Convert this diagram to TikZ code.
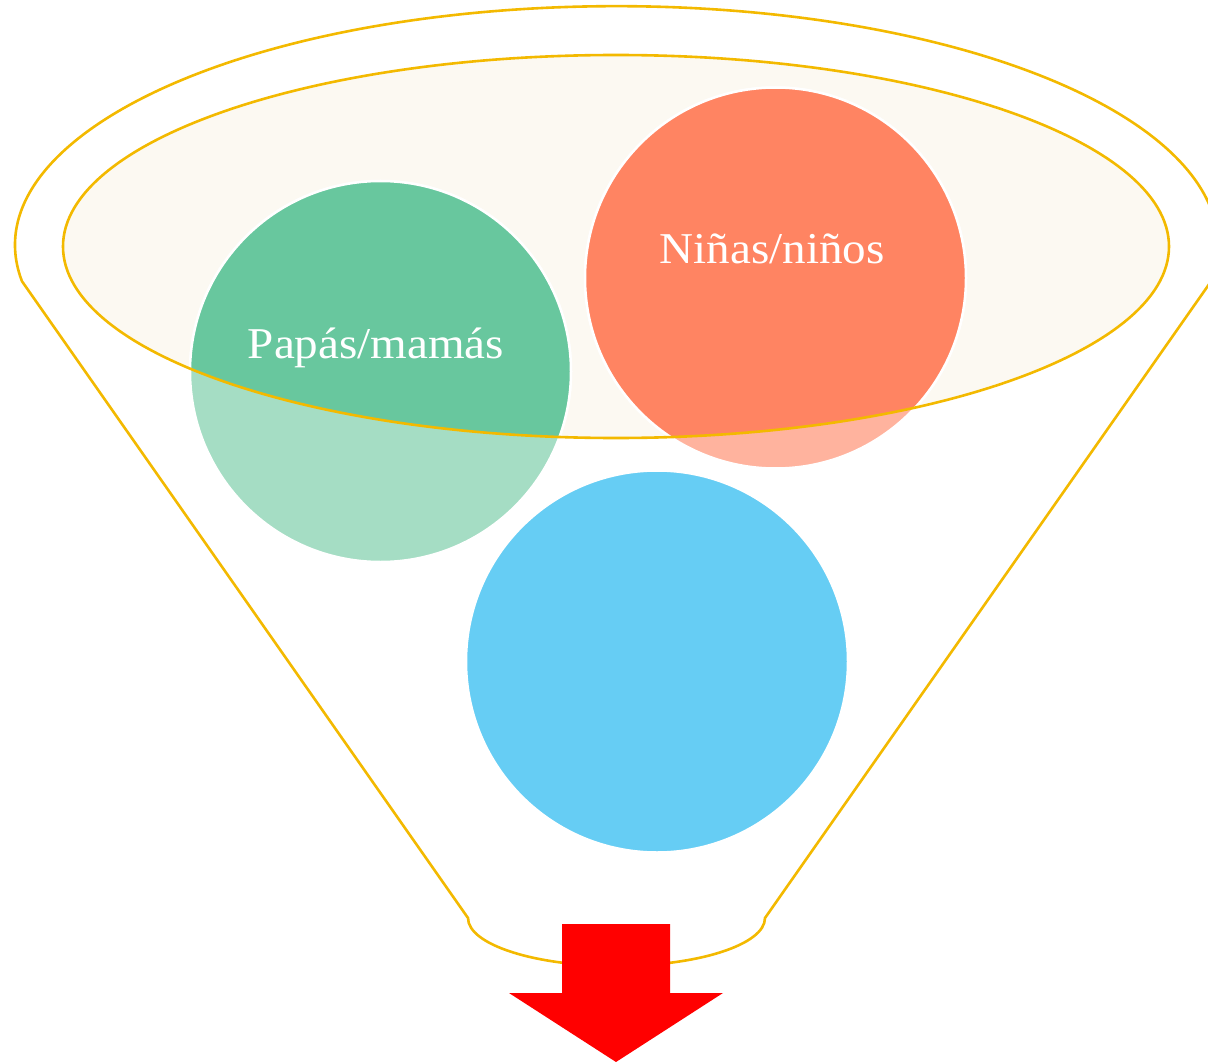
\documentclass[tikz,border=0pt]{standalone}
\usepackage{fontspec}
\setmainfont{Liberation Serif}
\newfontfamily\lblfont[FakeStretch=1.07]{Liberation Serif}
\definecolor{gold}{HTML}{F3B900}
\definecolor{cream}{HTML}{FCF9F2}
\definecolor{grn}{HTML}{68C79E}
\definecolor{grnlt}{HTML}{A5DDC4}
\definecolor{org}{HTML}{FF8462}
\definecolor{orglt}{HTML}{FFB39E}
\definecolor{blu}{HTML}{66CDF4}
\definecolor{arrred}{HTML}{FF0000}
\tikzset{
  goldline/.style={draw=gold,line width=2.6pt,line join=round},
  bubble/.style={draw=white,line width=2.5pt},
  lbl/.style={text=white,font=\lblfont\fontsize{44}{50}\selectfont,anchor=base,inner sep=0pt}
}
\begin{document}
\begin{tikzpicture}[x=1pt,y=-1pt]
\useasboundingbox (0,0) rectangle (1208,1062);
% funnel outline
\draw[goldline] (22,281.3) arc[start angle=171.3,end angle=368.7,x radius=601.5,y radius=239]
  -- (765,918) arc[start angle=0,end angle=180,x radius=148.5,y radius=48] -- cycle;
% inner ellipse fill
\fill[cream] (616,246.5) ellipse[x radius=553,y radius=191.5];
% circles (light parts)
\draw[bubble,fill=grnlt] (380.5,371.5) circle[radius=190.5];
\draw[bubble,fill=orglt] (775.5,278) circle[radius=190.5];
\draw[bubble,fill=blu] (657,661.5) circle[radius=191];
% saturated parts inside the ellipse
\begin{scope}
  \clip (616,246.5) ellipse[x radius=553,y radius=191.5];
  \draw[bubble,fill=grn] (380.5,371.5) circle[radius=190.5];
  \draw[bubble,fill=org] (775.5,278) circle[radius=190.5];
\end{scope}
% inner ellipse stroke
\draw[goldline] (616,246.5) ellipse[x radius=553,y radius=191.5];
% labels
\node[lbl] (papas) at (376,358) {Papás/mamás};
\node[lbl] (ninas) at (772,263) {Niñas/niños};
% arrow
\fill[arrred] (562,924) -- (670,924) -- (670,993) -- (723,993) -- (616,1062)
  -- (509,993) -- (562,993) -- cycle;
\end{tikzpicture}
\end{document}
